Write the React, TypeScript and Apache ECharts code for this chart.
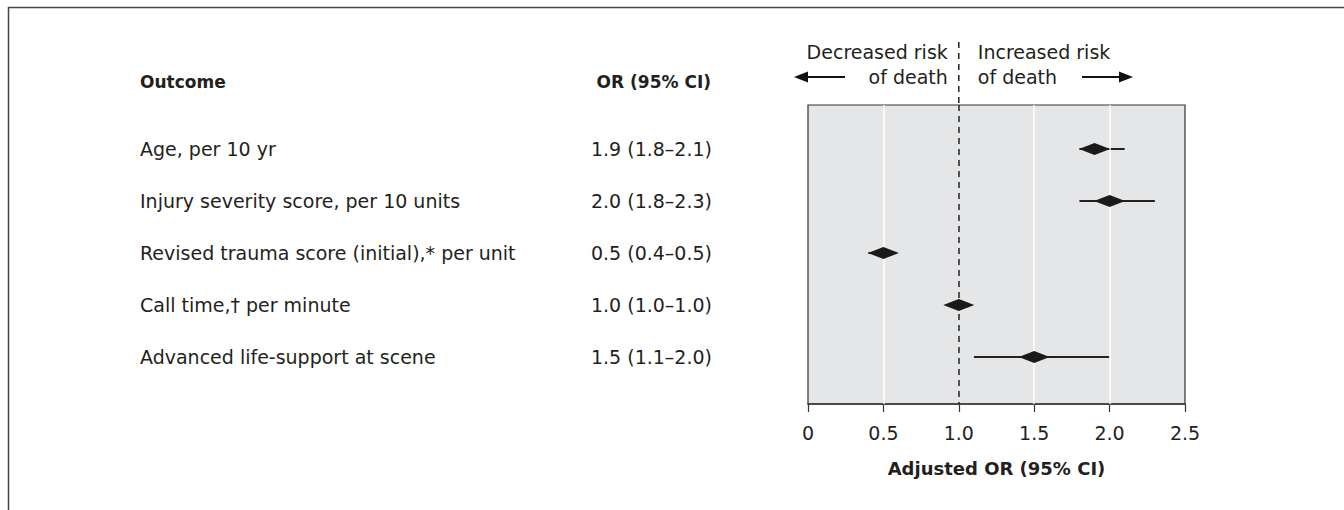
import React, { useEffect, useRef } from "react";
import * as echarts from "echarts";

const outcomes = [
  "Age, per 10 yr",
  "Injury severity score, per 10 units",
  "Revised trauma score (initial),* per unit",
  "Call time,\u2020 per minute",
  "Advanced life-support at scene",
];
const orValues = [1.9, 2.0, 0.5, 1.0, 1.5];
const ciLow = [1.8, 1.8, 0.4, 1.0, 1.1];
const ciHigh = [2.1, 2.3, 0.5, 1.0, 2.0];
const orLabels = [
  "1.9 (1.8\u20132.1)",
  "2.0 (1.8\u20132.3)",
  "0.5 (0.4\u20130.5)",
  "1.0 (1.0\u20131.0)",
  "1.5 (1.1\u20132.0)",
];
const gridValues = [0.5, 1.5, 2.0];
const refValue = 1.0;

const FONT = "'DejaVu Sans', sans-serif";
const FS = 19;
const TXT = "#231f20";

export default function App() {
  const ref = useRef<HTMLDivElement>(null);
  useEffect(() => {
    if (!ref.current) return;
    const chart = echarts.init(ref.current, undefined, { renderer: "svg" });
    const option: any = {
      animation: false,
      textStyle: { fontFamily: FONT },
      grid: {
        left: 808,
        top: 105,
        width: 377,
        height: 299,
        show: true,
        backgroundColor: "#e5e6e8",
        borderColor: "#333",
        borderWidth: 1.2,
      },
      xAxis: {
        type: "value",
        min: 0,
        max: 2.5,
        interval: 0.5,
        name: "Adjusted OR (95% CI)",
        nameLocation: "middle",
        nameGap: 55,
        nameTextStyle: { fontFamily: FONT, fontSize: FS - 1, fontWeight: "bold", color: TXT },
        axisLine: { show: true, onZero: false, lineStyle: { color: "#333", width: 1.5 } },
        axisTick: { show: true, length: 8, lineStyle: { color: "#333", width: 1.2 } },
        axisLabel: {
          margin: 19,
          fontFamily: FONT,
          fontSize: FS,
          color: TXT,
          formatter: (v: number) => (v === 0 ? "0" : v.toFixed(1)),
        },
        splitLine: { show: false },
      },
      yAxis: {
        type: "value",
        inverse: true,
        min: -0.846,
        max: 4.904,
        show: false,
        axisLine: { onZero: false },
        splitLine: { show: false },
      },
      series: [
        {
          type: "scatter",
          data: gridValues.map((v) => [v, 0]),
          symbolSize: 0,
          silent: true,
          markLine: {
            silent: true,
            symbol: "none",
            label: { show: false },
            lineStyle: { color: "#ffffff", width: 1.5, type: "solid" },
            data: gridValues.map((v) => ({ xAxis: v })),
          },
        },
        {
          type: "scatter",
          data: [[refValue, 0]],
          symbolSize: 0,
          silent: true,
          markLine: {
            silent: true,
            symbol: "none",
            label: { show: false },
            lineStyle: { color: "#222", width: 1.5, type: [6, 5] },
            data: [{ xAxis: refValue }],
          },
        },
        {
          type: "custom",
          silent: true,
          data: outcomes.map((_, i) => [ciLow[i], ciHigh[i], i]),
          renderItem: (params: any, api: any) => {
            const p1 = api.coord([api.value(0), api.value(2)]);
            const p2 = api.coord([api.value(1), api.value(2)]);
            return {
              type: "line",
              shape: { x1: p1[0], y1: p1[1], x2: p2[0], y2: p2[1] },
              style: { stroke: "#222", lineWidth: 1.8 },
            };
          },
        },
        {
          type: "scatter",
          symbol: "diamond",
          symbolSize: [31, 12],
          itemStyle: { color: "#1a1a1a", opacity: 1 },
          data: orValues.map((v, i) => [v, i]),
          z: 5,
        },
      ],
    };
    chart.setOption(option);

    const xRef = chart.convertToPixel({ xAxisIndex: 0 }, refValue) as number;
    const rowY = outcomes.map((_, i) => chart.convertToPixel({ yAxisIndex: 0 }, i) as number);
    const textBase = { fontFamily: FONT, fontSize: FS, fill: TXT };
    const graphics: any[] = [
      {
        type: "rect",
        shape: { x: 8.5, y: 7.5, width: 1400, height: 600 },
        style: { fill: "none", stroke: "#444", lineWidth: 1.5 },
        silent: true,
      },
      {
        type: "line",
        shape: { x1: xRef, y1: 42, x2: xRef, y2: 105 },
        style: { stroke: "#222", lineWidth: 1.5, lineDash: [6, 5] },
      },
      {
        type: "text",
        x: xRef - 11,
        y: 52,
        style: { ...textBase, text: "Decreased risk", align: "right", verticalAlign: "middle" },
      },
      {
        type: "text",
        x: xRef - 11,
        y: 77,
        style: { ...textBase, text: "of death", align: "right", verticalAlign: "middle" },
      },
      {
        type: "text",
        x: xRef + 19,
        y: 52,
        style: { ...textBase, text: "Increased risk", align: "left", verticalAlign: "middle" },
      },
      {
        type: "text",
        x: xRef + 19,
        y: 77,
        style: { ...textBase, text: "of death", align: "left", verticalAlign: "middle" },
      },
      {
        type: "line",
        shape: { x1: 805, y1: 77, x2: 845, y2: 77 },
        style: { stroke: "#111", lineWidth: 2 },
      },
      {
        type: "polygon",
        shape: { points: [[794, 77], [808, 71.5], [808, 82.5]] },
        style: { fill: "#111" },
      },
      {
        type: "line",
        shape: { x1: 1082, y1: 77, x2: 1122, y2: 77 },
        style: { stroke: "#111", lineWidth: 2 },
      },
      {
        type: "polygon",
        shape: { points: [[1133, 77], [1119, 71.5], [1119, 82.5]] },
        style: { fill: "#111" },
      },
      {
        type: "text",
        x: 140,
        y: 82,
        style: { ...textBase, text: "Outcome", fontSize: FS - 2, fontWeight: "bold", align: "left", verticalAlign: "middle" },
      },
      {
        type: "text",
        x: 711,
        y: 82,
        style: { ...textBase, text: "OR (95% CI)", fontSize: FS - 2, fontWeight: "bold", align: "right", verticalAlign: "middle" },
      },
    ];
    outcomes.forEach((name, i) => {
      graphics.push({
        type: "text",
        x: 140,
        y: rowY[i],
        style: { ...textBase, text: name, align: "left", verticalAlign: "middle" },
      });
      graphics.push({
        type: "text",
        x: 712,
        y: rowY[i],
        style: { ...textBase, text: orLabels[i], align: "right", verticalAlign: "middle" },
      });
    });
    chart.setOption({ graphic: graphics });
    return () => chart.dispose();
  }, []);
  return (
    <div
      ref={ref}
      style={{ position: "fixed", left: 0, top: 0, width: 1344, height: 510, background: "#fff" }}
    />
  );
}
